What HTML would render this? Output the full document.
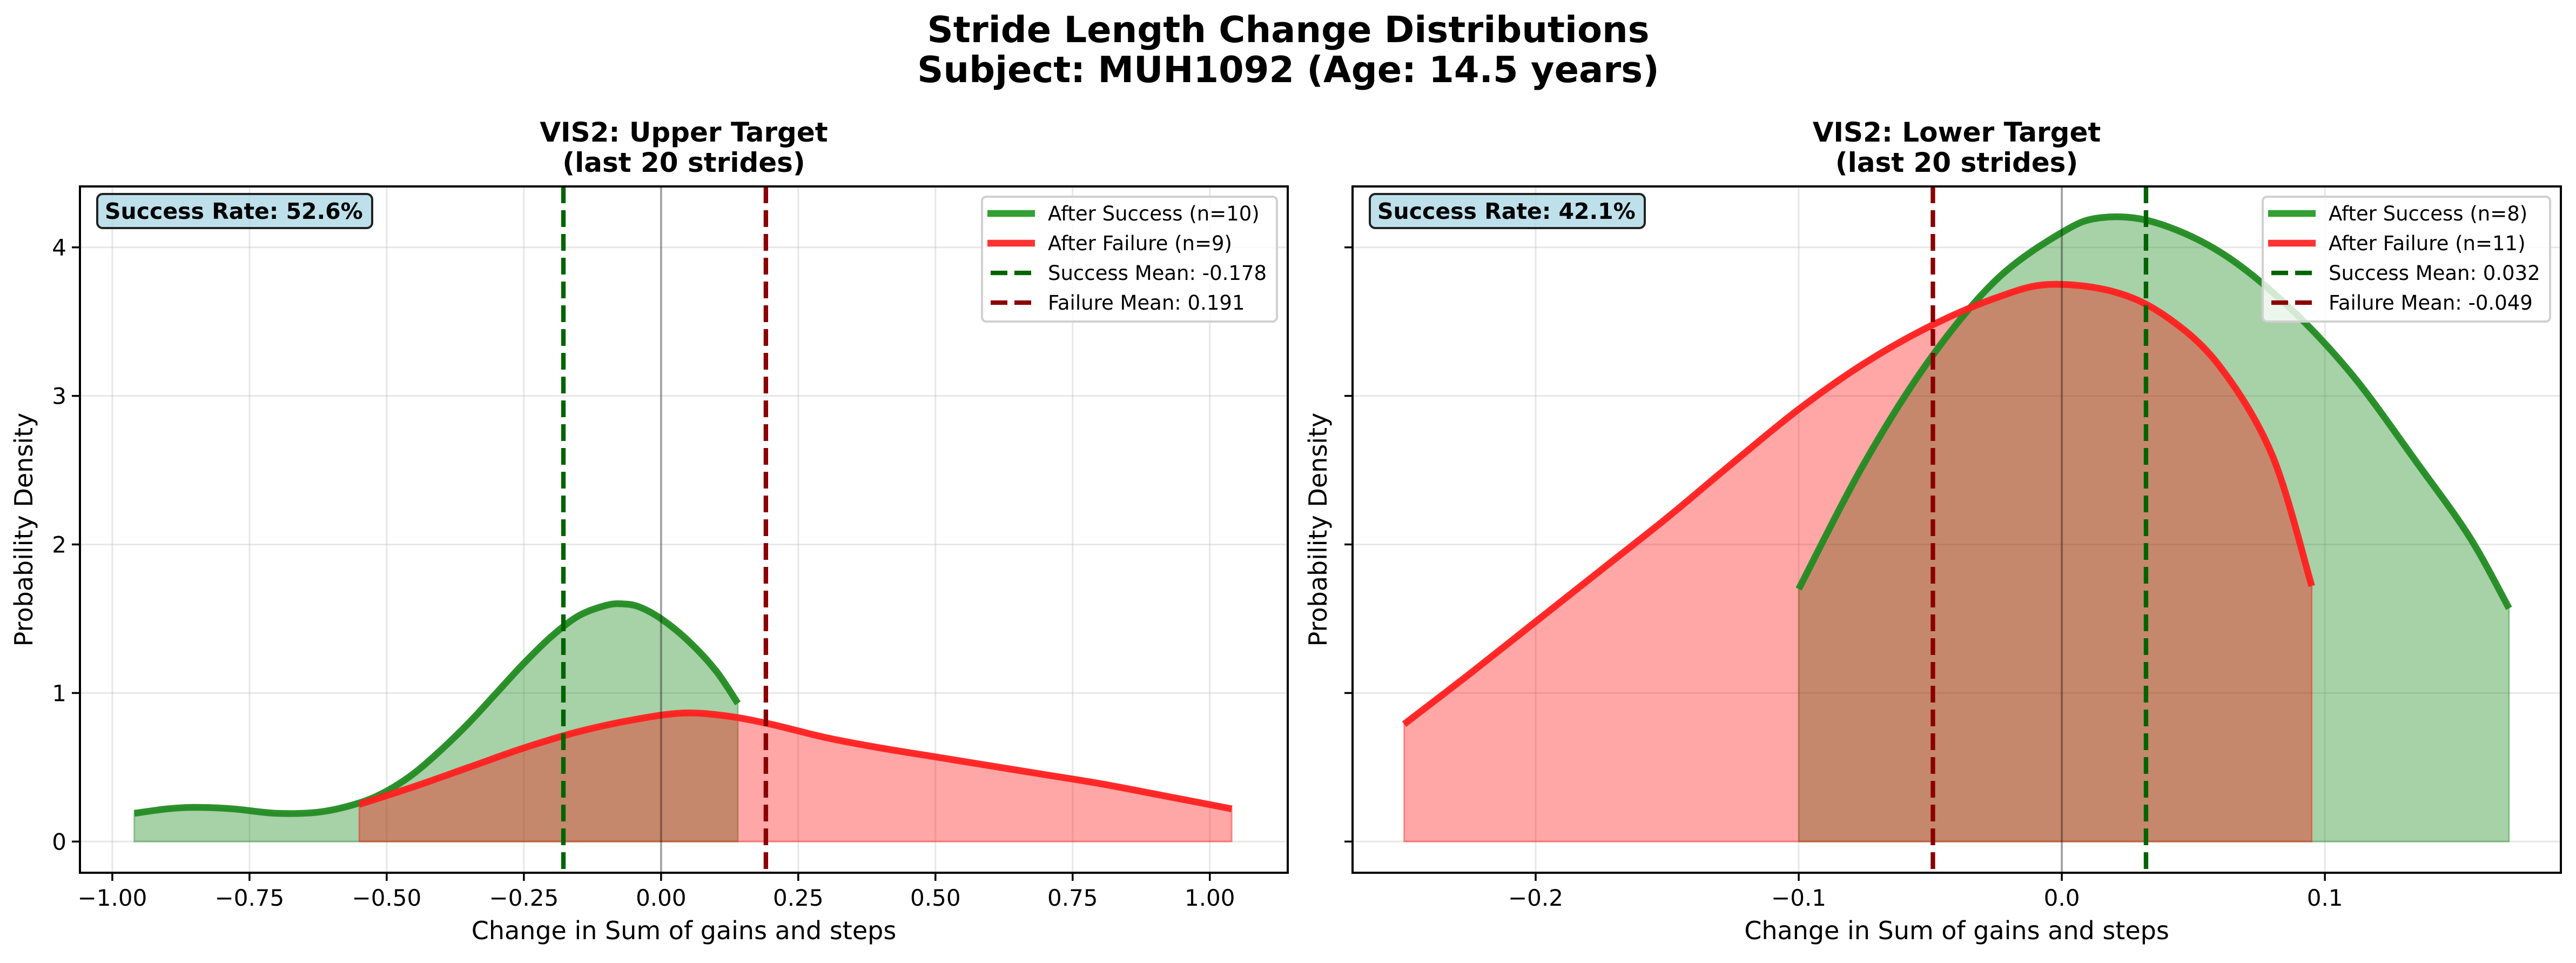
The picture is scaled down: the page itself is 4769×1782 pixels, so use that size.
<!DOCTYPE html>
<html><head><meta charset="utf-8">
<style>
html,body{margin:0;padding:0;background:#fff;}
svg text{font-family:"DejaVu Sans","Liberation Sans",sans-serif;}
</style></head>
<body>
<svg id="chart" xmlns="http://www.w3.org/2000/svg" width="4769" height="1777" viewBox="0 0 4769 1777">
<rect width="4769" height="1777" fill="#fff"/>
<text x="2385" y="78" text-anchor="middle" font-size="67" font-weight="bold">Stride Length Change Distributions</text>
<text x="2385" y="152" text-anchor="middle" font-size="67" font-weight="bold">Subject: MUH1092 (Age: 14.5 years)</text>
<g id="panels"></g>
</svg>
<script>
// Left panel data
const leftSuccessX = [-0.96,-0.9,-0.85,-0.78,-0.7,-0.62,-0.55,-0.5,-0.45,-0.4,-0.35,-0.3,-0.25,-0.2,-0.15,-0.1,-0.07,-0.04,0,0.05,0.1,0.14];
const leftSuccessY = [0.19,0.22,0.23,0.22,0.19,0.2,0.26,0.34,0.46,0.62,0.8,1.0,1.2,1.38,1.52,1.59,1.6,1.58,1.5,1.35,1.15,0.93];
const leftFailureX = [-0.55,-0.45,-0.35,-0.25,-0.15,-0.05,0.04,0.12,0.2,0.3,0.4,0.5,0.6,0.7,0.8,0.9,1.04];
const leftFailureY = [0.25,0.37,0.5,0.63,0.74,0.82,0.865,0.845,0.79,0.7,0.63,0.57,0.51,0.45,0.39,0.32,0.22];
const leftMeans = [-0.178, 0.191];
const leftXTicks = [-1.0,-0.75,-0.5,-0.25,0,0.25,0.5,0.75,1.0];
const leftXTickLabels = ["\u22121.00","\u22120.75","\u22120.50","\u22120.25","0.00","0.25","0.50","0.75","1.00"];
// Right panel data
const rightSuccessX = [-0.1,-0.075,-0.05,-0.025,0,0.015,0.035,0.06,0.085,0.11,0.135,0.155,0.17];
const rightSuccessY = [1.7,2.55,3.25,3.78,4.1,4.2,4.17,3.97,3.62,3.15,2.55,2.05,1.57];
const rightFailureX = [-0.25,-0.225,-0.2,-0.175,-0.15,-0.125,-0.1,-0.075,-0.05,-0.025,-0.005,0.02,0.04,0.06,0.08,0.095];
const rightFailureY = [0.79,1.13,1.48,1.83,2.18,2.55,2.91,3.22,3.47,3.66,3.75,3.7,3.53,3.2,2.6,1.72];
const rightMeans = [0.032, -0.049];
const rightXTicks = [-0.2,-0.1,0,0.1];
const rightXTickLabels = ["\u22120.2","\u22120.1","0.0","0.1"];
// shared y
const yTicks = [0,1,2,3,4];
const yTickLabels = ["0","1","2","3","4"];
const yMin = -0.21, yMax = 4.41;

const NS = "http://www.w3.org/2000/svg";
const root = document.getElementById('panels');
function mk(tag, attrs, parent){const e=document.createElementNS(NS,tag);for(const k in attrs)e.setAttribute(k,attrs[k]);(parent||root).appendChild(e);return e;}
function smooth(pts){
  let d="M"+pts[0][0]+","+pts[0][1];
  for(let i=0;i<pts.length-1;i++){
    const p0=pts[Math.max(0,i-1)],p1=pts[i],p2=pts[i+1],p3=pts[Math.min(pts.length-1,i+2)];
    const c1x=p1[0]+(p2[0]-p0[0])/6,c1y=p1[1]+(p2[1]-p0[1])/6;
    const c2x=p2[0]-(p3[0]-p1[0])/6,c2y=p2[1]-(p3[1]-p1[1])/6;
    d+=" C"+c1x+","+c1y+" "+c2x+","+c2y+" "+p2[0]+","+p2[1];
  }
  return d;
}
function panel(cfg){
  const L=cfg.left,R=cfg.right,T=345,B=1615;
  const sx=v=>L+(v-cfg.xmin)/(cfg.xmax-cfg.xmin)*(R-L);
  const sy=v=>B-(v-yMin)/(yMax-yMin)*(B-T);
  const g=mk('g',{});
  
  
  const cx=(L+R)/2;
  let t=mk('text',{x:cx,y:262,'text-anchor':'middle','font-size':50,'font-weight':'bold'},g);t.textContent=cfg.title;
  
  
  t=mk('text',{x:cx,y:318,'text-anchor':'middle','font-size':50,'font-weight':'bold'},g);t.textContent="(last 20 strides)";
  
  
  cfg.xticks.forEach((v,i)=>{
    const l=mk('line',{x1:sx(v),x2:sx(v),y1:T,y2:B,stroke:'#b0b0b0','stroke-opacity':0.3,'stroke-width':3},g);
    
    
  });
  yTicks.forEach(v=>{
    const l=mk('line',{x1:L,x2:R,y1:sy(v),y2:sy(v),stroke:'#b0b0b0','stroke-opacity':0.3,'stroke-width':3},g);
    
    
  });
  const series=[[cfg.sx_,cfg.sy_,'rgba(34,139,34,0.4)','#228B22','success'],[cfg.fx_,cfg.fy_,'rgba(255,0,0,0.35)','#ff2020','failure']];
  series.forEach(s=>{
    const pts=s[0].map((x,i)=>[sx(x),sy(s[1][i])]);
    const d=smooth(pts);
    const f=mk('path',{d:d+" L"+pts[pts.length-1][0]+","+sy(0)+" L"+pts[0][0]+","+sy(0)+" Z",fill:s[2],stroke:s[2],'stroke-width':3},g);
    
    
  });
  series.forEach(s=>{
    const pts=s[0].map((x,i)=>[sx(x),sy(s[1][i])]);
    const p=mk('path',{d:smooth(pts),fill:'none',stroke:s[3],'stroke-width':12.5,'stroke-opacity':0.95},g);
    
    
  });
  const z=mk('line',{x1:sx(0),x2:sx(0),y1:T,y2:B,stroke:'#000','stroke-opacity':0.3,'stroke-width':4},g);
  
  
  [[cfg.means[0],'#006400','success-mean-line'],[cfg.means[1],'#8b0000','failure-mean-line']].forEach(m=>{
    const l=mk('line',{x1:sx(m[0]),x2:sx(m[0]),y1:T,y2:B,stroke:m[1],'stroke-width':8.3,'stroke-dasharray':'31,13'},g);
    
    
  });
  const fr=mk('rect',{x:L,y:T,width:R-L,height:B-T,fill:'none',stroke:'#000','stroke-width':4},g);
  
  
  cfg.xticks.forEach((v,i)=>{
    mk('line',{x1:sx(v),x2:sx(v),y1:B,y2:B+15,stroke:'#000','stroke-width':3.5},g);
    const tl=mk('text',{x:sx(v),y:1676,'text-anchor':'middle','font-size':42},g);tl.textContent=cfg.xlabels[i];
    
    
  });
  yTicks.forEach((v,i)=>{
    mk('line',{x1:L-15,x2:L,y1:sy(v),y2:sy(v),stroke:'#000','stroke-width':3.5},g);
    if(cfg.ylabels){
      const tl=mk('text',{x:L-25,y:sy(v)+15,'text-anchor':'end','font-size':42},g);tl.textContent=yTickLabels[i];
      
      
    }
  });
  t=mk('text',{x:cx,y:1738,'text-anchor':'middle','font-size':46},g);t.textContent="Change in Sum of gains and steps";
  
  
  t=mk('text',{x:0,y:0,'text-anchor':'middle','font-size':46,transform:"translate("+(cfg.ylx)+",980) rotate(-90)"},g);t.textContent="Probability Density";
  
  
  const bx=L+32;
  const rb=mk('rect',{x:bx,y:359,width:509,height:63,rx:10,fill:'#add8e6','fill-opacity':0.8,stroke:'#222','stroke-width':4},g);
  
  
  t=mk('text',{x:bx+14,y:405,'font-size':41,'font-weight':'bold'},g);t.textContent=cfg.rate;
  
  
  const lx=cfg.legX, lw=cfg.legW;
  const lg=mk('rect',{x:lx,y:364,width:lw,height:231,rx:8,fill:'#fff','fill-opacity':0.8,stroke:'#d0d0d0','stroke-width':4},g);
  
  
  const ents=[[cfg.leg[0],'#33a033',''],[cfg.leg[1],'#ff3333',''],[cfg.leg[2],'#006400','31,13'],[cfg.leg[3],'#8b0000','31,13']];
  ents.forEach((e,i)=>{
    const y=395+i*55;
    const hl=mk('line',{x1:lx+10+(e[2]?6:0),x2:lx+98,y1:y,y2:y,stroke:e[1],'stroke-width':e[2]?8.3:12.5,'stroke-dasharray':e[2]||'none'},g);
    
    
    const tt=mk('text',{x:lx+122,y:y+13,'font-size':37},g);tt.textContent=e[0];
    
    
  });
}
panel({name:'upper-target-panel',left:148,right:2384,xmin:-1.059,xmax:1.142,title:"VIS2: Upper Target",
  sx_:leftSuccessX,sy_:leftSuccessY,fx_:leftFailureX,fy_:leftFailureY,means:leftMeans,xticks:leftXTicks,xlabels:leftXTickLabels,
  ylabels:true,ylx:60,rate:"Success Rate: 52.6%",legX:1818,legW:546,
  leg:["After Success (n=10)","After Failure (n=9)","Success Mean: -0.178","Failure Mean: 0.191"]});
panel({name:'lower-target-panel',left:2504,right:4741,xmin:-0.2696,xmax:0.1897,title:"VIS2: Lower Target",
  sx_:rightSuccessX,sy_:rightSuccessY,fx_:rightFailureX,fy_:rightFailureY,means:rightMeans,xticks:rightXTicks,xlabels:rightXTickLabels,
  ylabels:false,ylx:2456,rate:"Success Rate: 42.1%",legX:4189,legW:532,
  leg:["After Success (n=8)","After Failure (n=11)","Success Mean: 0.032","Failure Mean: -0.049"]});
</script>
</body></html>
